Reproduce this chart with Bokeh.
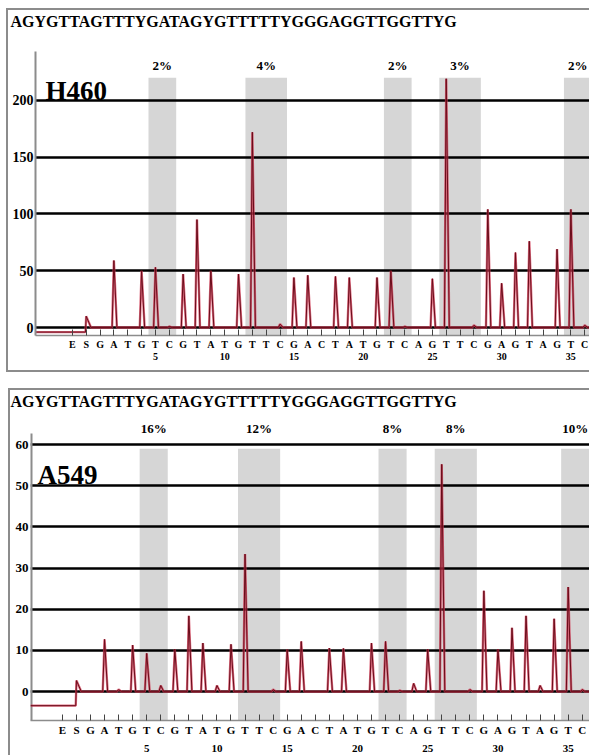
from bokeh.plotting import figure
from bokeh.models import ColumnDataSource, FixedTicker, LinearAxis, Range1d, LabelSet, Label
from bokeh.layouts import column
from bokeh.embed import file_html
from bokeh.resources import INLINE

# ---------------- data ----------------
sequence = "AGYGTTAGTTTYGATAGYGTTTTTYGGGAGGTTGGTTYG"
dispensation = ["E", "S"] + list("GATGTCGTATGTTCGACTATGTCAGTTCGAGTAGTC")
positions = list(range(-1, 37))          # E=-1, S=0, then 1..36
number_ticks = [5, 10, 15, 20, 25, 30, 35]
band_first = [5, 12, 22, 26, 35]
band_last = [6, 14, 23, 28, 36]

h460_heights = [0, 10, 0, 59, 0, 50, 53, 1, 47, 95, 50, 0, 47, 172, 0, 3,
                44, 46, 0, 45, 44, 0, 44, 50, 1, 0, 43, 219, 0, 2,
                104, 39, 66, 76, 0, 69, 104, 2]
h460_pre_level = -4
h460_pct = ["2%", "4%", "2%", "3%", "2%"]
h460_yticks = [0, 50, 100, 150, 200]

a549_heights = [0, 2.7, 0, 12.7, 0.5, 11.3, 9.3, 1.5, 10.3, 18.4, 11.8, 1.5, 11.5, 33.4, 0, 0.5,
                10.2, 12.2, 0, 10.6, 10.5, 0, 11.8, 12.2, 0.3, 2, 10.3, 55.2, 0, 0.5,
                24.5, 10.3, 15.5, 18.4, 1.5, 17.7, 25.4, 0.5]
a549_pre_level = -3.4
a549_pct = ["16%", "12%", "8%", "8%", "10%"]
a549_yticks = [0, 10, 20, 30, 40, 50, 60]

FONT = "Liberation Serif"


def build_trace(heights, pre_level, x_start, x_end):
    xs, ys = [x_start], [pre_level]
    for pos, h in zip(positions, heights):
        if pos < 0:
            continue
        if pos == 0:
            xs += [pos - 0.05, pos, pos + 0.35]
            ys += [pre_level, h, 0]
            continue
        if h > 0:
            xs += [pos - 0.13, pos, pos + 0.22]
            ys += [0, h, 0]
    xs.append(x_end)
    ys.append(0)
    return xs, ys


def make_panel(heights, pre_level, pct, yticks, cell_name, cfg):
    p = figure(width=cfg["w"], height=cfg["h"],
               x_range=Range1d(cfg["x0"], cfg["x1"]),
               y_range=Range1d(cfg["y0"], cfg["y1"]),
               output_backend="svg", toolbar_location=None,
               min_border_left=cfg["ml"], min_border_right=0,
               min_border_top=cfg["mt"], min_border_bottom=cfg["mb"])
    p.frame_align = False
    p.outline_line_color = None
    p.background_fill_color = "white"
    p.border_fill_color = "white"

    xa = p.xaxis[0]
    ya = p.yaxis[0]

    # x axis: dispensation letters
    xa.ticker = FixedTicker(ticks=positions)
    xa.major_label_overrides = {pos: d for pos, d in zip(positions, dispensation)}
    xa.axis_line_color = "#8c8c8c"
    xa.axis_line_width = 1.5
    xa.major_tick_in = 6
    xa.major_tick_out = 0
    xa.minor_tick_out = 0
    xa.major_tick_line_color = "#444444"
    xa.minor_tick_line_color = None
    xa.major_label_standoff = 3
    xa.major_label_text_font = FONT
    xa.major_label_text_font_style = "bold"
    xa.major_label_text_font_size = cfg["xfs"]
    xa.major_label_text_color = "black"

    # second row: dispensation numbers
    num_axis = LinearAxis(ticker=FixedTicker(ticks=number_ticks),
                          axis_line_color=None, major_tick_line_color=None,
                          minor_tick_line_color=None, major_tick_out=0, minor_tick_out=0,
                          major_label_standoff=cfg["num_standoff"],
                          major_label_text_font=FONT, major_label_text_font_style="bold",
                          major_label_text_font_size=cfg["xfs"], major_label_text_color="black")
    p.add_layout(num_axis, "below")

    # y axis
    ya.ticker = FixedTicker(ticks=yticks)
    ya.major_tick_line_color = None
    ya.minor_tick_line_color = None
    ya.major_tick_out = 0
    ya.major_tick_in = 0
    ya.minor_tick_out = 0
    ya.minor_tick_in = 0
    ya.major_label_standoff = 2
    ya.major_label_text_font = FONT
    ya.major_label_text_font_style = "bold"
    ya.major_label_text_font_size = cfg["yfs"]
    ya.major_label_text_color = "black"
    if cfg["axis_top"] >= cfg["y1"]:
        ya.axis_line_color = "#8c8c8c"
        ya.axis_line_width = 2
    else:
        ya.axis_line_color = None
        p.segment(x0=[cfg["x0"]], y0=[cfg["y0"]], x1=[cfg["x0"]], y1=[cfg["axis_top"]],
                  line_color="#8c8c8c", line_width=4)

    # sequence as title, pushed up by an invisible spacer axis
    p.title.text = sequence
    p.title.text_font = FONT
    p.title.text_font_style = "bold"
    p.title.text_font_size = "16px"
    p.title.text_color = "black"
    p.title.align = "left"
    p.title.offset = cfg["title_offset"]
    p.title.standoff = 1
    spacer = LinearAxis(ticker=FixedTicker(ticks=[15]), axis_line_color=None,
                        major_tick_line_color=None, minor_tick_line_color=None,
                        major_tick_out=cfg["spacer"], major_tick_in=0,
                        minor_tick_out=0, minor_tick_in=0, major_label_standoff=0,
                        major_label_overrides={15: ""},
                        major_label_text_font_size="1px", major_label_text_alpha=0)
    p.add_layout(spacer, "above")

    # grey bands
    p.quad(left=[b - 0.5 for b in band_first], right=[b + 0.5 for b in band_last],
           bottom=cfg["y0"], top=cfg["band_top"], fill_color="#d6d6d6",
           line_color=None, level="image")

    # grid
    p.xgrid.visible = False
    p.ygrid.ticker = FixedTicker(ticks=yticks)
    p.ygrid.grid_line_color = "black"
    p.ygrid.grid_line_width = 2.5

    # trace
    xs, ys = build_trace(heights, pre_level, cfg["x0"], cfg["x1"])
    p.line(xs, ys, line_color="#d23c55", line_width=2.4, line_alpha=0.75)
    p.line(xs, ys, line_color="#6a0c1a", line_width=1.0)

    # percent labels
    src = ColumnDataSource(dict(x=[(a + b) / 2 for a, b in zip(band_first, band_last)],
                                y=[cfg["pct_y"]] * len(pct), t=pct))
    p.add_layout(LabelSet(x="x", y="y", text="t", source=src, text_align="center",
                          text_baseline="middle", text_font=FONT, text_font_style="bold",
                          text_font_size="13px", text_color="black"))

    # cell line name
    p.add_layout(Label(x=cfg["name_x"], y=cfg["name_y"], text=cell_name, text_font=FONT,
                       text_font_style="bold", text_font_size="27px", text_color="black",
                       text_baseline="alphabetic"))
    return p


cfg1 = dict(w=583, h=364, x0=-3.66, x1=36.49, y0=-7, y1=243, axis_top=243,
            ml=27, mt=40, mb=39, title_offset=-25, spacer=21,
            band_top=220, yfs="14px", xfs="10px", num_standoff=0,
            pct_y=231, name_x=-2.93, name_y=208)
cfg2 = dict(w=581, h=367, x0=-3.27, x1=36.66, y0=-7, y1=65.6, axis_top=62.7,
            ml=20, mt=30, mb=37, title_offset=-20, spacer=11,
            band_top=59, yfs="13px", xfs="11px", num_standoff=6,
            pct_y=64.0, name_x=-2.77, name_y=52.5)

p1 = make_panel(h460_heights, h460_pre_level, h460_pct, h460_yticks, "H460", cfg1)
p2 = make_panel(a549_heights, a549_pre_level, a549_pct, a549_yticks, "A549", cfg2)

border = "2px solid #8c8c8c"
p1.styles = {"border-left": border, "border-top": border, "border-bottom": border}
p2.styles = {"border-left": border, "border-top": border}
p1.margin = (8, 0, 0, 6)
p2.margin = (16, 0, 0, 8)

layout = column(p1, p2, spacing=0)
layout.margin = 0

open("out.html", "w").write(file_html(layout, INLINE))
